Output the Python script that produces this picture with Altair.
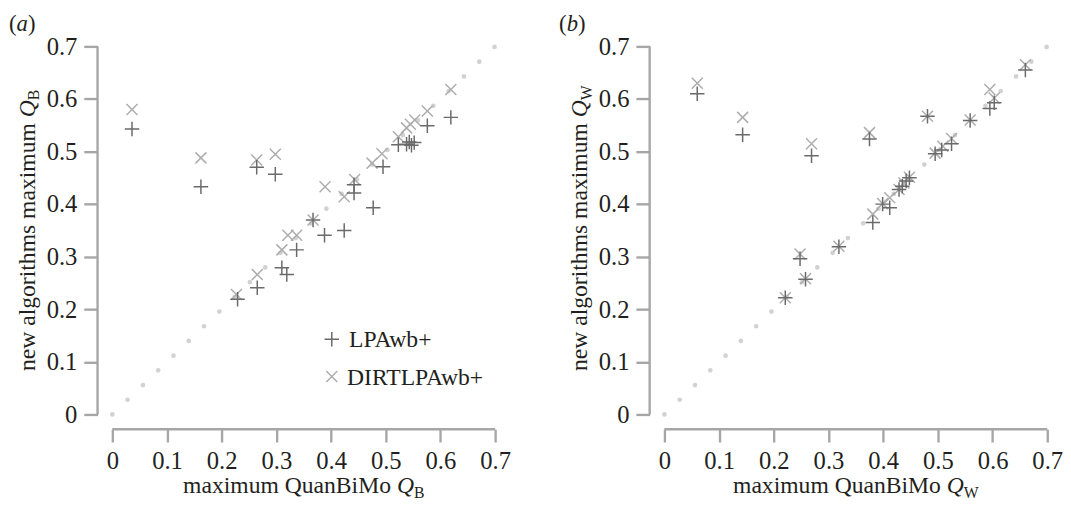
import altair as alt
import pandas as pd

FONT = "Liberation Serif"
W, H = 389, 374
OFF = 15
AX = "#a6a6a6"
TXT = "#231f20"
C_LPA = "#6a6a6a"
C_DIRT = "#adadad"
C_DOT = "#d2d2d2"

ticks = [0, 0.1, 0.2, 0.3, 0.4, 0.5, 0.6, 0.7]
diag = [0, 0.7]

# panel (a): Q_B
a_lpa_x = [0.036, 0.162, 0.264, 0.298, 0.229, 0.265, 0.310, 0.319, 0.337, 0.367, 0.388, 0.424,
           0.442, 0.442, 0.477, 0.495, 0.523, 0.538, 0.543, 0.547, 0.552, 0.576, 0.619]
a_lpa_y = [0.543, 0.433, 0.470, 0.457, 0.219, 0.241, 0.279, 0.266, 0.313, 0.370, 0.341, 0.350,
           0.437, 0.421, 0.393, 0.471, 0.513, 0.514, 0.518, 0.512, 0.517, 0.549, 0.565]
a_dirt_x = [0.036, 0.162, 0.264, 0.298, 0.227, 0.265, 0.310, 0.321, 0.337, 0.367, 0.389, 0.424,
            0.443, 0.475, 0.493, 0.523, 0.538, 0.545, 0.553, 0.576, 0.619]
a_dirt_y = [0.580, 0.488, 0.484, 0.495, 0.228, 0.266, 0.313, 0.341, 0.341, 0.370, 0.433, 0.414,
            0.447, 0.478, 0.496, 0.528, 0.545, 0.552, 0.560, 0.577, 0.618]

# panel (b): Q_W
b_lpa_x = [0.060, 0.143, 0.269, 0.375, 0.248, 0.258, 0.221, 0.319, 0.381, 0.399, 0.412, 0.429,
           0.435, 0.442, 0.448, 0.481, 0.495, 0.507, 0.525, 0.559, 0.595, 0.603, 0.660]
b_lpa_y = [0.610, 0.532, 0.492, 0.524, 0.296, 0.257, 0.222, 0.319, 0.365, 0.400, 0.393, 0.428,
           0.434, 0.444, 0.450, 0.567, 0.496, 0.503, 0.515, 0.559, 0.582, 0.593, 0.655]
b_dirt_x = [0.060, 0.143, 0.269, 0.375, 0.248, 0.258, 0.221, 0.319, 0.381, 0.399, 0.412, 0.429,
            0.438, 0.448, 0.481, 0.495, 0.509, 0.525, 0.559, 0.595, 0.603, 0.660]
b_dirt_y = [0.630, 0.565, 0.515, 0.536, 0.305, 0.258, 0.222, 0.320, 0.381, 0.401, 0.412, 0.428,
            0.440, 0.451, 0.567, 0.497, 0.510, 0.525, 0.560, 0.618, 0.602, 0.665]

series_names = ["LPAwb+", "DIRTLPAwb+"]

PLUS = "M-1,0L1,0M0,-1L0,1"
CROSS = "M-1,-1L1,1M-1,1L1,-1"
S_PLUS, S_CROSS = 216, 125

label_expr = "datum.value == 0 ? '0' : format(datum.value, '.1f')"


def axis(orient):
    return alt.Axis(values=ticks, labelExpr=label_expr, title=None, offset=OFF,
                    tickSize=14 if orient == "left" else 13, labelPadding=7,
                    domain=False, tickColor=AX, tickWidth=2.4,
                    labelFont=FONT, labelFontSize=25, labelColor=TXT, grid=False, labelFlush=False)


scale = alt.Scale(domain=[0, 0.7], nice=False)


def txt(s, x, y, size=24, style="normal", align="left", angle=0):
    return alt.Chart(pd.DataFrame({"t": [s]})).mark_text(
        font=FONT, fontSize=size, fontStyle=style, align=align, baseline="alphabetic",
        angle=angle, color=TXT).encode(x=alt.value(x), y=alt.value(y), text="t")


def panel(tag, sub, lx, ly, dx, dy, legend, tag_x):
    base_x = alt.X("x:Q", scale=scale, axis=axis("bottom"))
    base_y = alt.Y("y:Q", scale=scale, axis=axis("left"))
    line = alt.Chart(pd.DataFrame({"x": diag, "y": diag})).mark_line(
        strokeDash=[0, 21.55], strokeCap="round", strokeWidth=4.8, color=C_DOT).encode(x=base_x, y=base_y)
    # axis lines (domain), offset from the plot like the reference
    xdom = alt.Chart(pd.DataFrame({"a": [diag[0]], "b": [diag[1]]})).mark_rule(
        color=AX, strokeWidth=2.4).encode(x="a:Q", x2="b:Q", y=alt.value(H + OFF))
    ydom = alt.Chart(pd.DataFrame({"a": [diag[0]], "b": [diag[1]]})).mark_rule(
        color=AX, strokeWidth=2.4).encode(y="a:Q", y2="b:Q", x=alt.value(-OFF))
    dirt = alt.Chart(pd.DataFrame({"x": dx, "y": dy})).mark_point(
        shape=CROSS, filled=False, size=S_CROSS, strokeWidth=1.5, color=C_DIRT, opacity=1).encode(x="x:Q", y="y:Q")
    lpa = alt.Chart(pd.DataFrame({"x": lx, "y": ly})).mark_point(
        shape=PLUS, filled=False, size=S_PLUS, strokeWidth=1.5, color=C_LPA, opacity=1).encode(x="x:Q", y="y:Q")
    layers = [line, xdom, ydom, dirt, lpa]

    # panel tag "(a)"
    layers += [txt("(", tag_x, -15.5, 23), txt(tag, tag_x + 7.7, -15.5, 23, "italic"),
               txt(")", tag_x + 19.2, -15.5, 23)]

    # x title: maximum QuanBiMo Q_sub
    sub_w = 10.7 if sub == "B" else 15.1
    total = 217.3 + 17.3 + sub_w
    start = W / 2 - total / 2
    by = 454
    layers += [txt("maximum QuanBiMo", start + 211.3, by, 24, align="right"),
               txt("Q", start + 217.3, by, 24, "italic"),
               txt(sub, start + 234.6, by + 5, 16)]

    # y title: new algorithms maximum Q_sub (rotated)
    cy = H / 2
    yb = -79
    ystart = cy + 143
    layers += [txt("new algorithms maximum", yb, ystart - 252, 24, align="right", angle=270),
               txt("Q", yb, ystart - 258, 24, "italic", angle=270),
               txt(sub, yb + 5, ystart - 275.3, 16, angle=270)]

    if legend:
        layers += [
            alt.Chart(pd.DataFrame({"n": [series_names[0]]})).mark_point(
                shape=PLUS, filled=False, size=S_PLUS, strokeWidth=1.5, color=C_LPA, opacity=1
            ).encode(x=alt.value(223), y=alt.value(297.5)),
            alt.Chart(pd.DataFrame({"n": [series_names[1]]})).mark_point(
                shape=CROSS, filled=False, size=S_CROSS, strokeWidth=1.5, color=C_DIRT, opacity=1
            ).encode(x=alt.value(223), y=alt.value(335.5)),
            txt(series_names[0], 240.5, 305.8, 24),
            txt(series_names[1], 238.5, 343.6, 24),
        ]
    return alt.layer(*layers).properties(width=W, height=H)


left = panel("a", "B", a_lpa_x, a_lpa_y, a_dirt_x, a_dirt_y, True, -105)
right = panel("b", "W", b_lpa_x, b_lpa_y, b_dirt_x, b_dirt_y, False, -107)

chart = alt.hconcat(left, right, spacing=49).properties(
    padding={"left": 1, "top": 1, "right": 0, "bottom": 0}, background="white"
).configure_view(stroke=None)

chart.save("out.html", embed_options={"renderer": "svg", "actions": False})
